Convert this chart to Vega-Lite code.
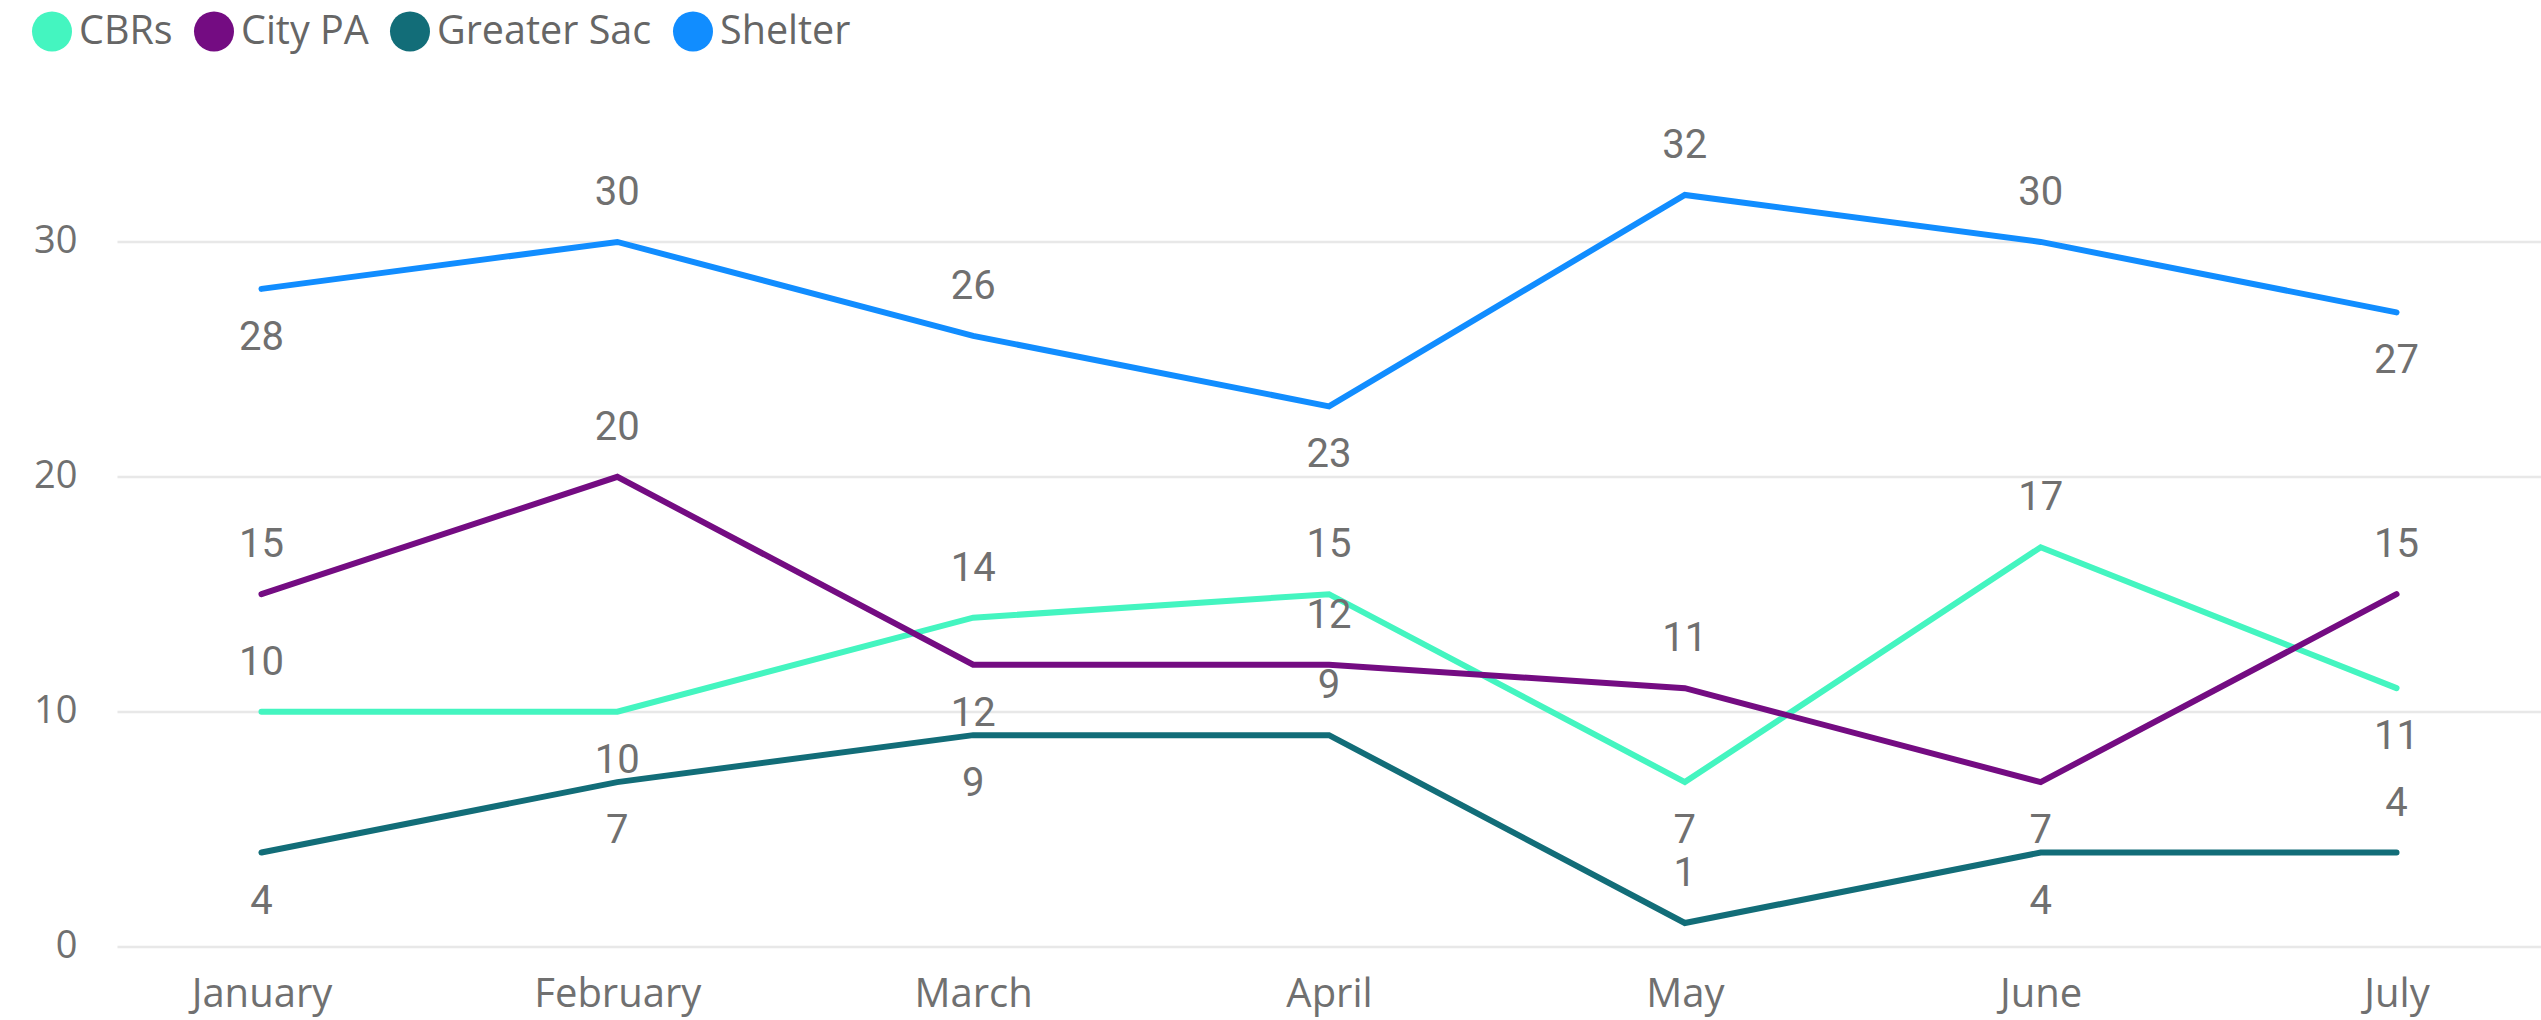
{
  "$schema": "https://vega.github.io/schema/vega-lite/v6.json",
  "autosize": "none",
  "width": 2424,
  "height": 822,
  "padding": {"left": 117, "top": 124.5, "right": 0, "bottom": 73.5},
  "background": "white",
  "config": {
    "view": {"stroke": null},
    "axis": {"domain": false, "ticks": false, "labelColor": "#707070"}
  },
  "data": {
    "values": [
      {"month": "January", "series": "CBRs", "value": 10},
      {"month": "February", "series": "CBRs", "value": 10},
      {"month": "March", "series": "CBRs", "value": 14},
      {"month": "April", "series": "CBRs", "value": 15},
      {"month": "May", "series": "CBRs", "value": 7},
      {"month": "June", "series": "CBRs", "value": 17},
      {"month": "July", "series": "CBRs", "value": 11},
      {"month": "January", "series": "City PA", "value": 15},
      {"month": "February", "series": "City PA", "value": 20},
      {"month": "March", "series": "City PA", "value": 12},
      {"month": "April", "series": "City PA", "value": 12},
      {"month": "May", "series": "City PA", "value": 11},
      {"month": "June", "series": "City PA", "value": 7},
      {"month": "July", "series": "City PA", "value": 15},
      {"month": "January", "series": "Greater Sac", "value": 4},
      {"month": "February", "series": "Greater Sac", "value": 7},
      {"month": "March", "series": "Greater Sac", "value": 9},
      {"month": "April", "series": "Greater Sac", "value": 9},
      {"month": "May", "series": "Greater Sac", "value": 1},
      {"month": "June", "series": "Greater Sac", "value": 4},
      {"month": "July", "series": "Greater Sac", "value": 4},
      {"month": "January", "series": "Shelter", "value": 28},
      {"month": "February", "series": "Shelter", "value": 30},
      {"month": "March", "series": "Shelter", "value": 26},
      {"month": "April", "series": "Shelter", "value": 23},
      {"month": "May", "series": "Shelter", "value": 32},
      {"month": "June", "series": "Shelter", "value": 30},
      {"month": "July", "series": "Shelter", "value": 27}
    ]
  },
  "encoding": {
    "x": {
      "field": "month", "type": "ordinal",
      "sort": ["January", "February", "March", "April", "May", "June", "July"],
      "scale": {"type": "point", "padding": 0.406},
      "axis": {"title": null, "labelAngle": 0, "labelFont": "Open Sans", "labelFontSize": 40, "labelPadding": 28, "grid": false}
    },
    "y": {
      "field": "value", "type": "quantitative",
      "scale": {"domain": [0, 35], "nice": false},
      "axis": {"title": null, "values": [0, 10, 20, 30], "labelFont": "Open Sans", "labelFontSize": 38, "labelPadding": 40, "grid": true, "gridColor": "#e8e8e8", "gridWidth": 2.5}
    }
  },
  "layer": [
    {
      "mark": {"type": "line", "strokeWidth": 6, "strokeCap": "round", "strokeJoin": "miter"},
      "encoding": {
        "color": {
          "field": "series", "type": "nominal",
          "scale": {"domain": ["CBRs", "City PA", "Greater Sac", "Shelter"], "range": ["#44F5C0", "#740C82", "#126D78", "#118DFF"]},
          "legend": {
            "title": null, "orient": "none", "direction": "horizontal",
            "legendX": -85, "legendY": -113,
            "symbolType": "circle", "symbolSize": 1600, "symbolStrokeWidth": 0,
            "labelFont": "Open Sans", "labelFontSize": 39.5, "labelColor": "#666666", "labelLimit": 0,
            "labelOffset": 7, "columnPadding": 21, "padding": 0,
            "encode": {"symbols": {"update": {"fill": {"scale": "color", "field": "value"}, "opacity": {"value": 1}}}}
          }
        }
      }
    },
    {
      "transform": [{"filter": "indexof(['CBRs|January','City PA|January','Shelter|February','City PA|February','Shelter|March','CBRs|March','CBRs|April','City PA|April','Greater Sac|April','Shelter|May','City PA|May','Greater Sac|May','Shelter|June','CBRs|June','City PA|July','Greater Sac|July'], datum.series + '|' + datum.month) >= 0"}],
      "mark": {"type": "text", "font": "Roboto", "fontSize": 40, "color": "#707070", "baseline": "middle", "align": "center", "dy": -49},
      "encoding": {"text": {"field": "value", "type": "quantitative"}}
    },
    {
      "transform": [{"filter": "indexof(['CBRs|January','City PA|January','Shelter|February','City PA|February','Shelter|March','CBRs|March','CBRs|April','City PA|April','Greater Sac|April','Shelter|May','City PA|May','Greater Sac|May','Shelter|June','CBRs|June','City PA|July','Greater Sac|July'], datum.series + '|' + datum.month) < 0"}],
      "mark": {"type": "text", "font": "Roboto", "fontSize": 40, "color": "#707070", "baseline": "middle", "align": "center", "dy": 49},
      "encoding": {"text": {"field": "value", "type": "quantitative"}}
    }
  ]
}
